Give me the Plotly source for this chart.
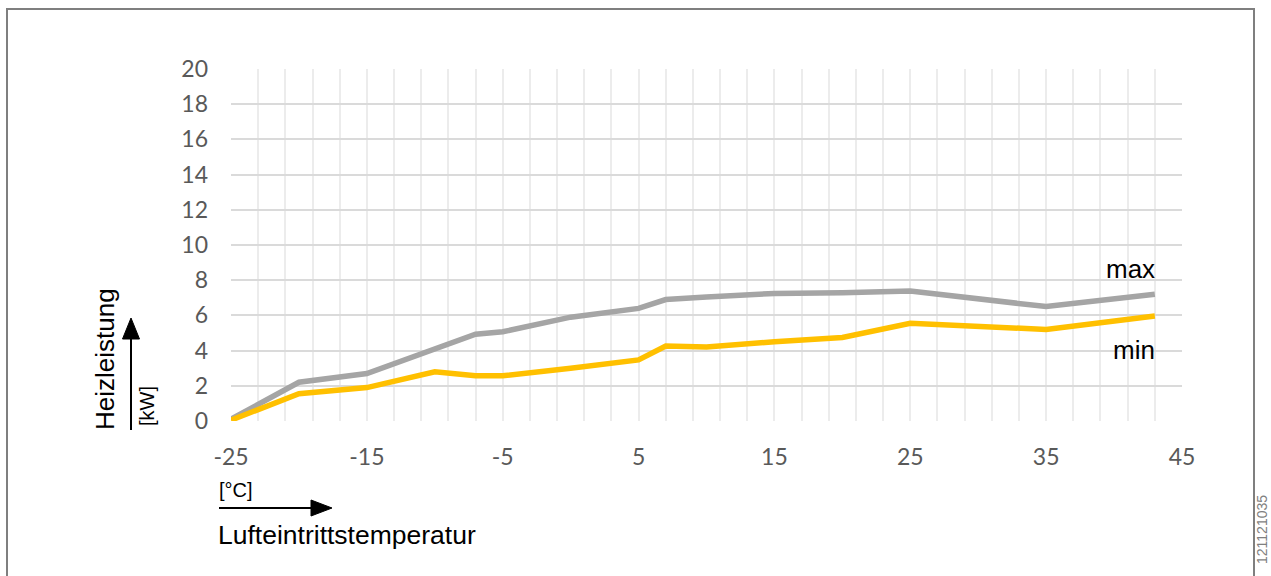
import plotly.graph_objects as go

# Lufteintrittstemperatur [°C]
temperatures = [-25, -20, -15, -10, -7, -5, 0, 5, 7, 10, 15, 20, 25, 35, 43]
# Heizleistung [kW]
heat_max = [0.1, 2.2, 2.7, 4.1, 4.93, 5.07, 5.9, 6.4, 6.9, 7.05, 7.25, 7.28, 7.38, 6.5, 7.2]
heat_min = [0.05, 1.55, 1.9, 2.8, 2.57, 2.57, 3.0, 3.47, 4.26, 4.2, 4.5, 4.75, 5.55, 5.2, 5.97]

x_ticks = [-25, -15, -5, 5, 15, 25, 35, 45]
y_ticks = [0, 2, 4, 6, 8, 10, 12, 14, 16, 18, 20]

W, H = 1271, 576
L, R, T, B = 231, 89, 69, 155
PW, PH = W - L - R, H - T - B


def px(x):
    return (x - L) / PW


def py(y):
    return (H - B - y) / PH


fig = go.Figure()
fig.add_trace(go.Scatter(x=temperatures, y=heat_max, mode="lines", name="max",
                         line=dict(color="#a5a5a5", width=5.5)))
fig.add_trace(go.Scatter(x=temperatures, y=heat_min, mode="lines", name="min",
                         line=dict(color="#ffc000", width=5.5)))

tick_font = dict(family="Lato, Open Sans, sans-serif", size=23, color="#595959")
text_font = dict(family="Liberation Sans, Arial, sans-serif", color="#000000")

fig.update_xaxes(range=[-25, 45], tickvals=x_ticks, ticktext=[str(v) for v in x_ticks],
                 showgrid=True, gridcolor="#ececec", gridwidth=2,
                 minor=dict(tick0=-25, dtick=2, showgrid=True, gridcolor="#ececec", gridwidth=2),
                 showline=False, zeroline=False, tickfont=tick_font, ticks="",
                 ticklabelstandoff=20)
fig.update_yaxes(range=[0, 20], tickvals=y_ticks, showgrid=True, gridcolor="#dadada",
                 gridwidth=2, showline=False, zeroline=False, tickfont=tick_font, ticks="",
                 ticklabelstandoff=22)

shapes = [
    # outer frame
    dict(type="rect", xref="paper", yref="paper", x0=px(7), x1=px(1254), y0=py(590), y1=py(9),
         line=dict(color="#7f7f7f", width=2), layer="below"),
    # vertical arrow
    dict(type="line", xref="paper", yref="paper", x0=px(131), x1=px(131), y0=py(430), y1=py(336),
         line=dict(color="#000000", width=2)),
    dict(type="path", xref="paper", yref="paper",
         path=f"M {px(122.5)} {py(339)} L {px(131)} {py(318)} L {px(139.5)} {py(339)} Z",
         fillcolor="#000000", line=dict(color="#000000", width=1)),
    # horizontal arrow
    dict(type="line", xref="paper", yref="paper", x0=px(219), x1=px(314), y0=py(508), y1=py(508),
         line=dict(color="#000000", width=2)),
    dict(type="path", xref="paper", yref="paper",
         path=f"M {px(311)} {py(500)} L {px(332)} {py(508)} L {px(311)} {py(516)} Z",
         fillcolor="#000000", line=dict(color="#000000", width=1)),
]

annotations = [
    dict(text="Heizleistung", x=px(105), y=py(359), textangle=-90,
         font=dict(size=26, **text_font)),
    dict(text="[kW]", x=px(147), y=py(406), textangle=-90,
         font=dict(size=20, **text_font)),
    dict(text="[°C]", x=px(217), y=py(490), xanchor="left",
         font=dict(size=20, **text_font)),
    dict(text="Lufteintrittstemperatur", x=px(216), y=py(535), xanchor="left",
         font=dict(size=26.5, **text_font)),
    dict(text="max", x=px(1157), y=py(269), xanchor="right",
         font=dict(size=26, **text_font)),
    dict(text="min", x=px(1157), y=py(350), xanchor="right",
         font=dict(size=26, **text_font)),
    dict(text="121121035", x=px(1262), y=py(530), textangle=-90, borderpad=0,
         font=dict(size=14, family="Liberation Sans, Arial, sans-serif", color="#7f7f7f")),
]
for a in annotations:
    a.update(xref="paper", yref="paper", showarrow=False)
    a.setdefault("xanchor", "center")
    a.setdefault("yanchor", "middle")

fig.update_layout(width=W, height=H, margin=dict(l=L, r=R, t=T, b=B),
                  paper_bgcolor="#ffffff", plot_bgcolor="#ffffff",
                  showlegend=False, shapes=shapes, annotations=annotations)

fig.write_html("out.html")
